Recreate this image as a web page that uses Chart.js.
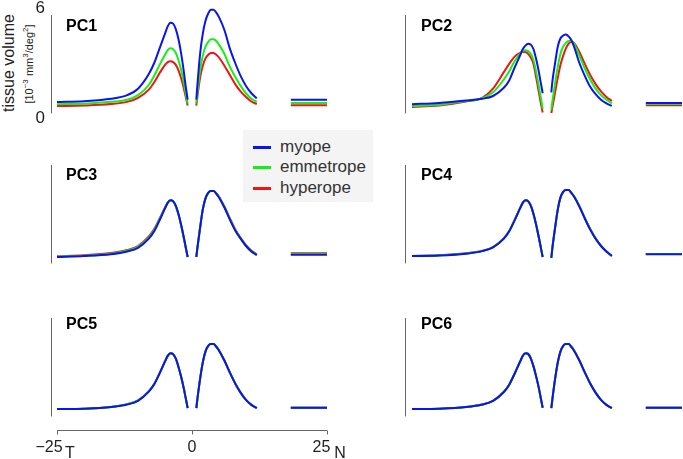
<!DOCTYPE html>
<html>
<head>
<meta charset="utf-8">
<script src="https://cdn.jsdelivr.net/npm/chart.js@4"></script>
<style>
  body { margin: 0; width: 683px; height: 459px; position: relative; overflow: hidden; background: #fff;
         font-family: "Liberation Sans", Arial, Helvetica, sans-serif; }
  .panel { position: absolute; }
  #ytitle, #yunit { position: absolute; white-space: nowrap; transform: translate(-50%, -50%) rotate(-90deg); color: #222; }
  #ytitle { left: 9px; top: 63px; font-size: 16px; }
  #yunit { left: 28px; top: 64px; font-size: 11px; }
  #yunit sup { font-size: 8px; }
  #legend { position: absolute; left: 243px; top: 130px; width: 130px; height: 72px; background: #f4f4f4; z-index: 10; }
  .item { position: absolute; left: 0; width: 130px; height: 20px; }
  .item span.sw { position: absolute; left: 10px; top: 9px; width: 18px; height: 2.5px; }
  .item span.tx { position: absolute; left: 37px; top: 0; font-size: 17px; line-height: 20px; color: #333; }
</style>
</head>
<body>
<div id="ytitle">tissue volume</div>
<div id="yunit">[10<sup>−3</sup> mm<sup>3</sup>/deg<sup>2</sup>]</div>
<div id="legend"></div>
<script>
// eccentricity (deg); null rows are the gaps (disc and blind zone)
const xs = [-25, -20, -15, -12, -10, -8, -7, -6, -5, -4.5,
            -4, -3.5, -3, -2.5, -2, -1.5, -1.2, -0.8, 0, 0.8,
            1, 1.5, 2, 2.5, 3, 3.5, 4, 4.5, 5, 6,
            7, 8, 9, 10, 11, 12, 15, 18.3, 21.5, 25];

const seriesNames = ["myope", "emmetrope", "hyperope"];
const seriesColors = ["#0a14f0", "#14f014", "#f01414"];

const xTickValues = [-25, 0, 25];
const xTickLabels = ["\u221225", "0", "25"];
const xTickSubs = ["T", "", "N"];
const yTickValues = [0, 6];

const pc1Myope = [0.87,0.92,1.05,1.25,1.6,2.4,3.0,3.8,4.6,5.0, 5.2,5.15,4.85,4.3,3.5,2.5,1.8,1.0,null,1.0, 1.8,3.5,4.6,5.3,5.7,5.9,5.9,5.75,5.5,4.8, 3.8,3.0,2.3,1.75,1.35,1.07,null,1.0,1.0,1.0];
const pc1Emmetrope = [0.75,0.78,0.88,1.0,1.25,1.8,2.3,2.9,3.45,3.7, 3.8,3.75,3.55,3.15,2.6,1.9,1.4,0.8,null,0.8, 1.35,2.6,3.4,3.9,4.15,4.3,4.3,4.2,4.0,3.5, 2.8,2.25,1.75,1.35,1.05,0.88,null,0.82,0.82,0.82];
const pc1Hyperope = [0.65,0.68,0.76,0.88,1.1,1.55,1.95,2.45,2.9,3.05, 3.1,3.05,2.9,2.6,2.15,1.6,1.2,0.68,null,0.68, 1.15,2.2,2.85,3.25,3.45,3.55,3.55,3.45,3.3,2.85, 2.35,1.85,1.45,1.15,0.9,0.76,null,0.7,0.7,0.7];

const pc2Myope = [0.75,0.82,0.95,1.05,1.2,1.65,2.05,2.75,3.4,3.75, 3.95,4.05,4.0,3.75,3.2,2.5,2.0,1.35,null,1.4, 2.0,3.0,3.9,4.35,4.5,4.55,4.45,4.25,3.9,3.0, 2.3,1.7,1.3,1.0,0.8,0.66,null,0.82,0.82,0.82];
const pc2Emmetrope = [0.65,0.72,0.92,1.08,1.4,2.1,2.55,3.1,3.5,3.65, 3.7,3.65,3.5,3.15,2.5,1.7,1.2,0.5,null,0.45, 0.9,1.9,2.8,3.5,3.9,4.1,4.2,4.2,4.05,3.4, 2.7,2.1,1.6,1.25,1.0,0.8,null,0.76,0.76,0.76];
const pc2Hyperope = [0.6,0.68,0.9,1.1,1.6,2.5,2.95,3.35,3.55,3.6, 3.6,3.5,3.3,2.95,2.2,1.4,0.9,0.3,null,0.27, 0.6,1.4,2.2,2.9,3.4,3.8,4.05,4.15,4.1,3.6, 2.95,2.35,1.85,1.45,1.15,0.93,null,0.7,0.7,0.7];

const pc3Myope = [0.6,0.65,0.75,0.9,1.1,1.6,2.0,2.6,3.25,3.55, 3.7,3.65,3.4,2.95,2.35,1.65,1.2,0.6,null,0.6, 1.1,2.2,3.2,3.8,4.1,4.2,4.2,4.05,3.85,3.3, 2.65,2.05,1.6,1.2,0.9,0.7,null,0.72,0.72,0.72];
const pc3Emmetrope = [0.62,0.67,0.78,0.94,1.15,1.66,2.06,2.65,3.28,3.56, 3.7,3.64,3.38,2.93,2.33,1.63,1.18,0.6,null,0.6, 1.1,2.2,3.2,3.8,4.1,4.2,4.2,4.06,3.87,3.33, 2.68,2.08,1.62,1.22,0.92,0.72,null,0.76,0.76,0.76];
const pc3Hyperope = [0.64,0.7,0.82,0.98,1.2,1.72,2.12,2.7,3.3,3.57, 3.7,3.63,3.36,2.9,2.3,1.6,1.15,0.6,null,0.6, 1.1,2.2,3.2,3.8,4.1,4.2,4.2,4.07,3.89,3.36, 2.72,2.12,1.65,1.25,0.95,0.75,null,0.8,0.8,0.8];

const pc4Myope = [0.65,0.68,0.78,0.92,1.12,1.6,2.0,2.6,3.25,3.55, 3.7,3.65,3.4,2.95,2.35,1.65,1.2,0.6,null,0.55, 1.1,2.2,3.2,3.85,4.15,4.25,4.25,4.1,3.9,3.35, 2.7,2.1,1.6,1.2,0.9,0.65,null,0.75,0.75,0.75];
const pc4Emmetrope = [0.66,0.69,0.79,0.93,1.13,1.61,2.01,2.61,3.25,3.55, 3.7,3.65,3.4,2.95,2.35,1.65,1.2,0.6,null,0.55, 1.1,2.2,3.2,3.85,4.15,4.25,4.25,4.11,3.92,3.38, 2.73,2.13,1.62,1.22,0.91,0.66,null,0.76,0.76,0.76];
const pc4Hyperope = [0.66,0.69,0.8,0.94,1.14,1.62,2.02,2.61,3.25,3.55, 3.7,3.65,3.4,2.95,2.35,1.65,1.2,0.6,null,0.55, 1.1,2.2,3.2,3.85,4.15,4.25,4.25,4.1,3.91,3.37, 2.72,2.12,1.61,1.21,0.9,0.66,null,0.76,0.76,0.76];

const pc5Myope = [0.65,0.67,0.76,0.9,1.1,1.6,2.0,2.6,3.25,3.55, 3.7,3.65,3.4,2.95,2.4,1.75,1.3,0.7,null,0.7, 1.2,2.3,3.2,3.8,4.1,4.2,4.2,4.05,3.85,3.3, 2.65,2.05,1.55,1.15,0.88,0.7,null,0.72,0.72,0.72];
const pc5Emmetrope = [0.65,0.67,0.77,0.92,1.13,1.63,2.02,2.6,3.25,3.55, 3.7,3.65,3.4,2.95,2.4,1.75,1.3,0.7,null,0.7, 1.2,2.3,3.2,3.8,4.1,4.2,4.2,4.05,3.85,3.3, 2.65,2.05,1.55,1.15,0.88,0.7,null,0.72,0.72,0.72];
const pc5Hyperope = [0.65,0.67,0.77,0.92,1.13,1.63,2.02,2.6,3.25,3.55, 3.7,3.65,3.4,2.95,2.4,1.75,1.3,0.7,null,0.7, 1.2,2.3,3.2,3.8,4.1,4.2,4.2,4.05,3.85,3.3, 2.65,2.05,1.55,1.15,0.88,0.7,null,0.72,0.72,0.72];

const pc6Myope = [0.65,0.67,0.76,0.9,1.1,1.58,1.98,2.58,3.23,3.55, 3.7,3.66,3.42,2.98,2.42,1.78,1.32,0.72,null,0.7, 1.2,2.3,3.2,3.8,4.1,4.2,4.2,4.05,3.85,3.3, 2.65,2.05,1.55,1.15,0.88,0.7,null,0.72,0.72,0.72];
const pc6Emmetrope = [0.65,0.67,0.76,0.9,1.1,1.58,1.98,2.58,3.23,3.55, 3.7,3.66,3.42,2.98,2.42,1.78,1.32,0.72,null,0.7, 1.2,2.3,3.2,3.8,4.1,4.2,4.2,4.05,3.85,3.3, 2.65,2.05,1.55,1.15,0.88,0.7,null,0.72,0.72,0.72];
const pc6Hyperope = [0.65,0.67,0.76,0.9,1.1,1.58,1.98,2.58,3.23,3.55, 3.7,3.66,3.42,2.98,2.42,1.78,1.32,0.72,null,0.7, 1.2,2.3,3.2,3.8,4.1,4.2,4.2,4.05,3.85,3.3, 2.65,2.05,1.55,1.15,0.88,0.7,null,0.72,0.72,0.72];

const FONT = '"Liberation Sans", Arial, Helvetica, sans-serif';
const axisSpan = [0.25, 5.62];

// layout of the 6 small panels
const panels = [
  { name: "PC1", series: [pc1Myope, pc1Emmetrope, pc1Hyperope], left: 0,   top: 0,   w: 340, h: 140, yw: 57, padT: 8,  padB: 22, padR: 13, labelDy: 19, showY: true },
  { name: "PC2", series: [pc2Myope, pc2Emmetrope, pc2Hyperope], left: 340, top: 0,   w: 343, h: 140, yw: 72, padT: 8,  padB: 22, padR: 1,  labelDy: 19 },
  { name: "PC3", series: [pc3Myope, pc3Emmetrope, pc3Hyperope], left: 0,   top: 140, w: 340, h: 150, yw: 57, padT: 18, padB: 22, padR: 13, labelDy: 18 },
  { name: "PC4", series: [pc4Myope, pc4Emmetrope, pc4Hyperope], left: 340, top: 140, w: 343, h: 150, yw: 72, padT: 18, padB: 22, padR: 1,  labelDy: 18 },
  { name: "PC5", series: [pc5Myope, pc5Emmetrope, pc5Hyperope], left: 0,   top: 290, w: 360, h: 169, yw: 57, padT: 21, padB: 0,  padR: 33, labelDy: 13.5, showX: true },
  { name: "PC6", series: [pc6Myope, pc6Emmetrope, pc6Hyperope], left: 340, top: 290, w: 343, h: 169, yw: 72, padT: 21, padB: 38, padR: 1,  labelDy: 14 }
];

const panelDecor = {
  id: "panelDecor",
  afterDraw(chart, args, opts) {
    const { ctx, chartArea, scales } = chart;
    ctx.save();
    // short vertical axis line left of the plot
    const lx = Math.round(chartArea.left - opts.gap) + 0.5;
    ctx.strokeStyle = "#666";
    ctx.lineWidth = 1;
    ctx.beginPath();
    ctx.moveTo(lx, scales.y.getPixelForValue(axisSpan[1]));
    ctx.lineTo(lx, scales.y.getPixelForValue(axisSpan[0]));
    ctx.stroke();
    // panel name
    ctx.fillStyle = "#000";
    ctx.font = "bold 16px " + FONT;
    ctx.textBaseline = "middle";
    ctx.textAlign = "left";
    ctx.fillText(opts.name, chartArea.left + 9, chartArea.top + opts.labelDy);
    if (opts.showX) {
      const x = scales.x;
      const ay = Math.round(chartArea.bottom + 9) + 0.5;
      ctx.beginPath();
      ctx.moveTo(x.getPixelForValue(xTickValues[0]), ay);
      ctx.lineTo(x.getPixelForValue(xTickValues[xTickValues.length - 1]), ay);
      xTickValues.forEach(v => {
        const px = Math.round(x.getPixelForValue(v)) + 0.5;
        ctx.moveTo(px, ay);
        ctx.lineTo(px, ay + 4);
      });
      ctx.stroke();
      ctx.fillStyle = "#222";
      ctx.font = "16px " + FONT;
      ctx.textBaseline = "alphabetic";
      ctx.textAlign = "center";
      xTickValues.forEach((v, i) => {
        if (xTickSubs[i]) ctx.fillText(xTickSubs[i], x.getPixelForValue(v) + 13, chartArea.bottom + 37);
      });
    }
    ctx.restore();
  }
};

const tickPad = ["\u2003", "", "\u2002\u2009"];

panels.forEach(p => {
  const box = document.createElement("div");
  box.className = "panel";
  box.style.left = p.left + "px";
  box.style.top = p.top + "px";
  const canvas = document.createElement("canvas");
  canvas.width = p.w;
  canvas.height = p.h;
  box.appendChild(canvas);
  document.body.appendChild(box);

  new Chart(canvas, {
    type: "line",
    data: {
      datasets: p.series.map((ys, i) => ({
        label: seriesNames[i],
        data: xs.map((x, j) => ({ x: x, y: ys[j] })),
        borderColor: seriesColors[i],
        borderWidth: 2,
        pointRadius: 0,
        fill: false,
        cubicInterpolationMode: "monotone"
      }))
    },
    options: {
      responsive: false,
      devicePixelRatio: 1,
      animation: false,
      layout: { padding: { top: p.padT, bottom: p.padB, right: p.padR, left: 0 } },
      scales: {
        x: {
          type: "linear", min: -25, max: 25,
          display: !!p.showX,
          grid: { display: false, drawTicks: false },
          border: { display: false },
          afterBuildTicks: s => { s.ticks = xTickValues.map(v => ({ value: v })); },
          afterFit: s => { s.height = p.showX ? 38 : 0; s.paddingLeft = 0; s.paddingRight = 0; },
          ticks: {
            autoSkip: false, maxRotation: 0, padding: 17, color: "#222",
            font: { family: FONT, size: 16 },
            callback: (v, i) => xTickLabels[i] + tickPad[i]
          }
        },
        y: {
          min: 0, max: 6,
          grid: { display: false, drawTicks: false },
          border: { display: false },
          afterBuildTicks: s => { s.ticks = yTickValues.map(v => ({ value: v })); },
          afterFit: s => { s.width = p.yw; s.paddingTop = 0; s.paddingBottom = 0; },
          ticks: { display: !!p.showY, padding: 12, color: "#222", font: { family: FONT, size: 17 } }
        }
      },
      plugins: {
        legend: { display: false },
        tooltip: { enabled: false },
        panelDecor: { name: p.name, gap: p.yw === 57 ? 6 : 7, labelDy: p.labelDy, showX: !!p.showX }
      }
    },
    plugins: [panelDecor]
  });
});

// legend box
const legend = document.getElementById("legend");
const rowTops = [7, 27, 48];
seriesNames.forEach((n, i) => {
  const it = document.createElement("div");
  it.className = "item";
  it.style.top = rowTops[i] + "px";
  it.innerHTML = '<span class="sw" style="background:' + seriesColors[i] + '"></span><span class="tx">' + n + "</span>";
  legend.appendChild(it);
});
</script>
</body>
</html>
